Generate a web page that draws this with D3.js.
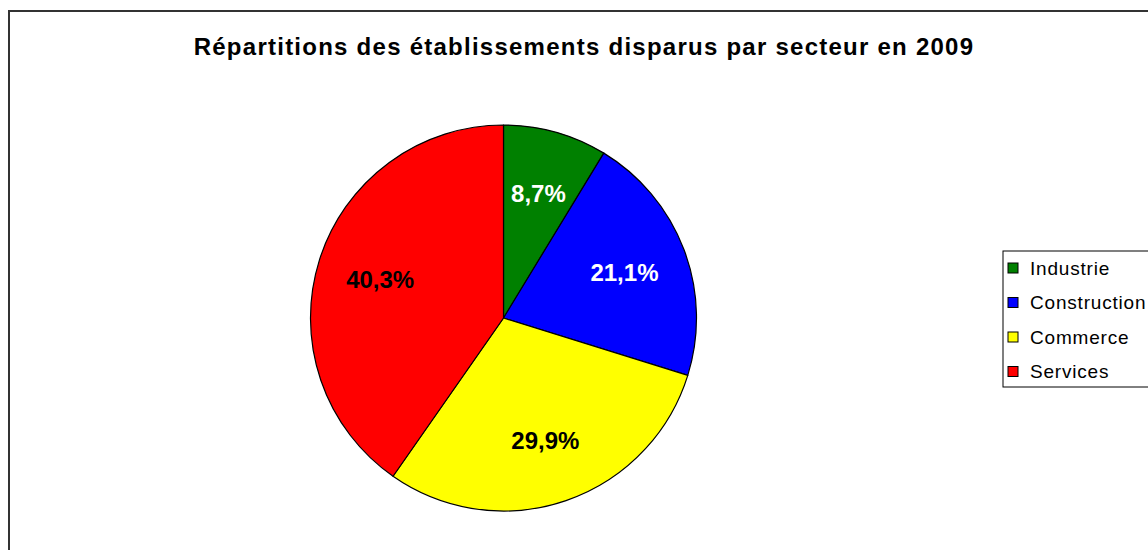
<!DOCTYPE html>
<html>
<head>
<meta charset="utf-8">
<script src="https://cdn.jsdelivr.net/npm/d3@7"></script>
<style>
  body { margin: 0; background: #fff; }
  svg { display: block; font-family: "Liberation Sans", Arial, sans-serif; }
</style>
</head>
<body>
<div class="displayContainer"></div>
<script>
// chart data
const title = 'Répartitions des établissements disparus par secteur en 2009';
const sectors = ['Industrie', 'Construction', 'Commerce', 'Services'];
const shares = [8.7, 21.1, 29.9, 40.3];
const colors = ['#008000', '#0000ff', '#ffff00', '#ff0000'];
const labelColors = ['#ffffff', '#ffffff', '#000000', '#000000'];

const width = 1148, height = 550;

const canvas = d3.select('.displayContainer')
                .append('svg')
                .attr('width', width)
                .attr('height', height);

// chart area border (runs off the right and bottom edges)
canvas.append('rect')
    .attr('x', 9)
    .attr('y', 11)
    .attr('width', 1160)
    .attr('height', 560)
    .attr('fill', '#fff')
    .attr('stroke', '#333')
    .attr('stroke-width', 2);

canvas.append('text')
    .attr('x', 584)
    .attr('y', 55)
    .attr('text-anchor', 'middle')
    .style('font-size', '24px')
    .style('font-weight', 'bold')
    .style('letter-spacing', '1.25px')
    .text(title);

// pie
const cx = 503.5, cy = 318, radius = 193;
const pie = d3.pie().sort(null).value(d => d);
const arc = d3.arc().innerRadius(0).outerRadius(radius);
const labelArc = d3.arc().innerRadius(radius * 0.67).outerRadius(radius * 0.67);

const g = canvas.append('g').attr('transform', `translate(${cx},${cy})`);

const slices = g.selectAll('g.slice')
    .data(pie(shares))
    .enter()
    .append('g')
    .attr('class', 'slice');

slices.append('path')
    .attr('d', arc)
    .attr('fill', (d, i) => colors[i])
    .attr('stroke', '#000')
    .attr('stroke-width', 1.2)
    .attr('stroke-linejoin', 'round');

slices.append('text')
    .attr('x', d => labelArc.centroid(d)[0])
    .attr('y', d => labelArc.centroid(d)[1])
    .attr('dy', '0.35em')
    .attr('text-anchor', 'middle')
    .style('font-size', '24px')
    .style('font-weight', 'bold')
    .attr('fill', (d, i) => labelColors[i])
    .text(d => d.data.toFixed(1).replace('.', ',') + '%');

// legend
const legend = canvas.append('g').attr('transform', 'translate(1003, 251)');
legend.append('rect')
    .attr('x', 0).attr('y', 0)
    .attr('width', 160).attr('height', 136)
    .attr('fill', '#fff')
    .attr('stroke', '#000')
    .attr('stroke-width', 1);

const items = legend.selectAll('g.item')
    .data(sectors)
    .enter()
    .append('g')
    .attr('class', 'item')
    .attr('transform', (d, i) => `translate(0, ${17 + i * 34.5})`);

items.append('rect')
    .attr('x', 5).attr('y', -5)
    .attr('width', 10).attr('height', 10)
    .attr('fill', (d, i) => colors[i])
    .attr('stroke', '#000')
    .attr('stroke-width', 1);

items.append('text')
    .attr('x', 27)
    .attr('y', 0)
    .attr('dy', '0.35em')
    .style('font-size', '19px')
    .style('letter-spacing', '0.8px')
    .text(d => d);
</script>
</body>
</html>
